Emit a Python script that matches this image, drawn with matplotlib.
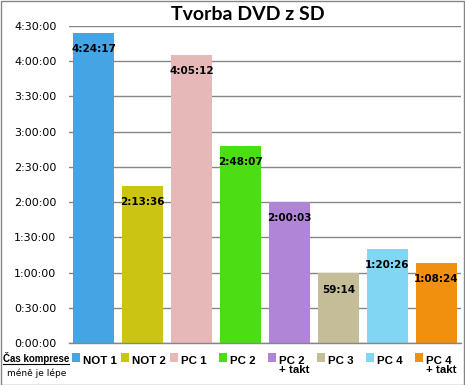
import matplotlib
matplotlib.use('Agg')
import matplotlib.pyplot as plt
import matplotlib.transforms as mtransforms
from matplotlib.patches import Rectangle
from matplotlib.ticker import FixedLocator, FuncFormatter
from matplotlib.lines import Line2D

# data
categories = ['NOT 1', 'NOT 2', 'PC 1', 'PC 2', 'PC 2\n+ takt', 'PC 3', 'PC 4', 'PC 4\n+ takt']
times = ['4:24:17', '2:13:36', '4:05:12', '2:48:07', '2:00:03', '0:59:14', '1:20:26', '1:08:24']
bar_labels = ['4:24:17', '2:13:36', '4:05:12', '2:48:07', '2:00:03', '59:14', '1:20:26', '1:08:24']
colors = ['#45A4E4', '#CCC412', '#E6B9B8', '#4DDD15', '#B085D8', '#C5BD97', '#80D6F3', '#F0900E']


def to_sec(s):
    h, m, sec = [int(p) for p in s.split(':')]
    return h * 3600 + m * 60 + sec


def fmt_hms(v, pos=None):
    v = int(round(v))
    return '%d:%02d:%02d' % (v // 3600, (v % 3600) // 60, v % 60)


values = [to_sec(t) for t in times]
x = list(range(len(categories)))

W, H = 465, 385
fig = plt.figure(figsize=(W / 100, H / 100), dpi=100)
ax = fig.add_axes([69 / W, 1 - 343 / H, 392 / W, 317 / H])

ax.bar(x, values, width=0.857, color=colors, zorder=2)
ax.set_xlim(-0.5, len(categories) - 0.5)
ax.set_ylim(0, 16200)
ax.yaxis.set_major_locator(FixedLocator(range(0, 16201, 1800)))
ax.yaxis.set_major_formatter(FuncFormatter(fmt_hms))
ax.grid(axis='y', color='#868686', linewidth=1, zorder=0)
ax.set_xticks([])
ax.tick_params(axis='y', length=0, pad=9, labelsize=8, labelcolor='black')
for side in ['left', 'right', 'top']:
    ax.spines[side].set_visible(False)
ax.spines['bottom'].set_color('#868686')
ax.spines['bottom'].set_linewidth(1)

for xi, v, lab in zip(x, values, bar_labels):
    ax.annotate(lab, (xi, v), xytext=(0, -8), textcoords='offset points',
                ha='center', va='top', fontsize=7.5, fontweight='bold', color='black', zorder=3)

# title
fig.text(248 / W, 1 - 20 / H, 'Tvorba DVD z SD', ha='center', va='baseline',
         fontsize=14, fontweight='bold', family='Lato')

# legend row under the bars (Excel style keys)
trans = mtransforms.blended_transform_factory(ax.transData, fig.transFigure)
for xi, cat, c in zip(x, categories, colors):
    left = xi - 0.43
    ax.add_patch(Rectangle((left, 1 - 362 / H), 8 / 49, 9 / H, transform=trans,
                           facecolor=c, edgecolor='none', clip_on=False))
    ax.text(left + 11 / 49, 1 - 355.5 / H, cat, transform=trans, ha='left', va='top',
            fontsize=8.25, fontweight='bold', family='Liberation Sans', linespacing=0.95,
            clip_on=False)

t1 = fig.text(3 / W, 1 - 361.5 / H, 'Čas komprese', ha='left', va='baseline',
              fontsize=7, fontweight='bold', family='Liberation Sans')
fig.text(37 / W, 1 - 373 / H, 'méně je lépe', ha='center', va='center', fontsize=6.5)

fig.canvas.draw()
bb = t1.get_window_extent().transformed(fig.transFigure.inverted())
fig.add_artist(Line2D([bb.x0, bb.x1], [1 - 363.5 / H, 1 - 363.5 / H],
                      transform=fig.transFigure, color='black', linewidth=0.8))

# outer border
fig.add_artist(Rectangle((0.5 / W, 0.5 / H), 1 - 1.5 / W, 1 - 1.5 / H, transform=fig.transFigure,
                         facecolor='none', edgecolor='#868686', linewidth=1))

fig.savefig('out.png', dpi=100)
